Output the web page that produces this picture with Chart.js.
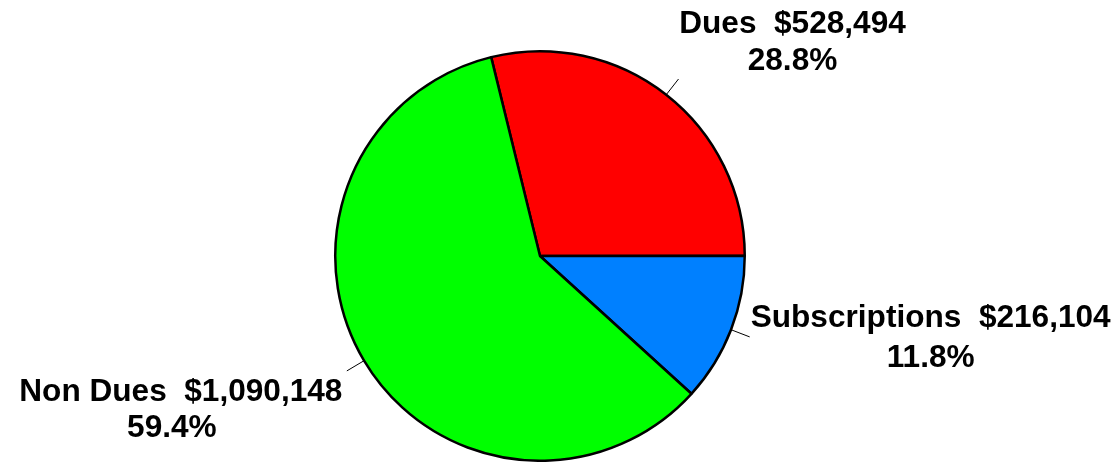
<!DOCTYPE html>
<html>
<head>
<meta charset="utf-8">
<script src="https://cdn.jsdelivr.net/npm/chart.js@4"></script>
<style>
  html, body { margin: 0; padding: 0; background: #fff; }
  #wrap { width: 1119px; height: 462px; }
</style>
</head>
<body>
<div id="wrap"><canvas id="pie"></canvas></div>
<script>
// data
const categories = ["Dues", "Subscriptions", "Non Dues"];
const amounts = [528494, 216104, 1090148];
const amountLabels = ["$528,494", "$216,104", "$1,090,148"];
const percentLabels = ["28.8%", "11.8%", "59.4%"];
const sliceColors = ["#ff0000", "#0080ff", "#00ff00"];

// where each label block sits relative to the end of its leader line
// [dx line1, dy line1 baseline, dx line2, dy line2 baseline]
const labelOffsets = [
    [114, -46, 114, -9],
    [181, -10, 181, 30],
    [-166, 30, -175, 66]
];

const leaderLines = {
    id: "leaderLines",
    afterDatasetsDraw(chart) {
        const ctx = chart.ctx;
        const meta = chart.getDatasetMeta(0);
        ctx.save();
        meta.data.forEach((arc, i) => {
            const mid = (arc.startAngle + arc.endAngle) / 2;
            const r = arc.outerRadius;
            const x0 = arc.x + Math.cos(mid) * r;
            const y0 = arc.y + Math.sin(mid) * r;
            const x1 = arc.x + Math.cos(mid) * (r + 20);
            const y1 = arc.y + Math.sin(mid) * (r + 20);
            ctx.strokeStyle = "#000";
            ctx.lineWidth = 1;
            ctx.beginPath();
            ctx.moveTo(x0, y0);
            ctx.lineTo(x1, y1);
            ctx.stroke();

            const off = labelOffsets[i];
            ctx.fillStyle = "#000";
            ctx.font = "bold 31.6px 'Liberation Sans', Arial, sans-serif";
            ctx.textAlign = "center";
            ctx.textBaseline = "alphabetic";
            ctx.fillText(categories[i] + "  " + amountLabels[i], x1 + off[0], y1 + off[1]);
            ctx.fillText(percentLabels[i], x1 + off[2], y1 + off[3]);
        });
        ctx.restore();
    }
};

new Chart(document.getElementById("pie"), {
    type: "pie",
    data: {
        labels: categories,
        datasets: [{
            data: amounts,
            backgroundColor: sliceColors,
            borderColor: "#000",
            borderWidth: 2.5,
            borderAlign: "center"
        }]
    },
    options: {
        responsive: true,
        maintainAspectRatio: false,
        animation: false,
        rotation: -13.8,
        layout: { padding: { left: 0, right: 39, top: 50, bottom: 0 } },
        plugins: {
            legend: { display: false },
            tooltip: { enabled: false }
        }
    },
    plugins: [leaderLines]
});
</script>
</body>
</html>
